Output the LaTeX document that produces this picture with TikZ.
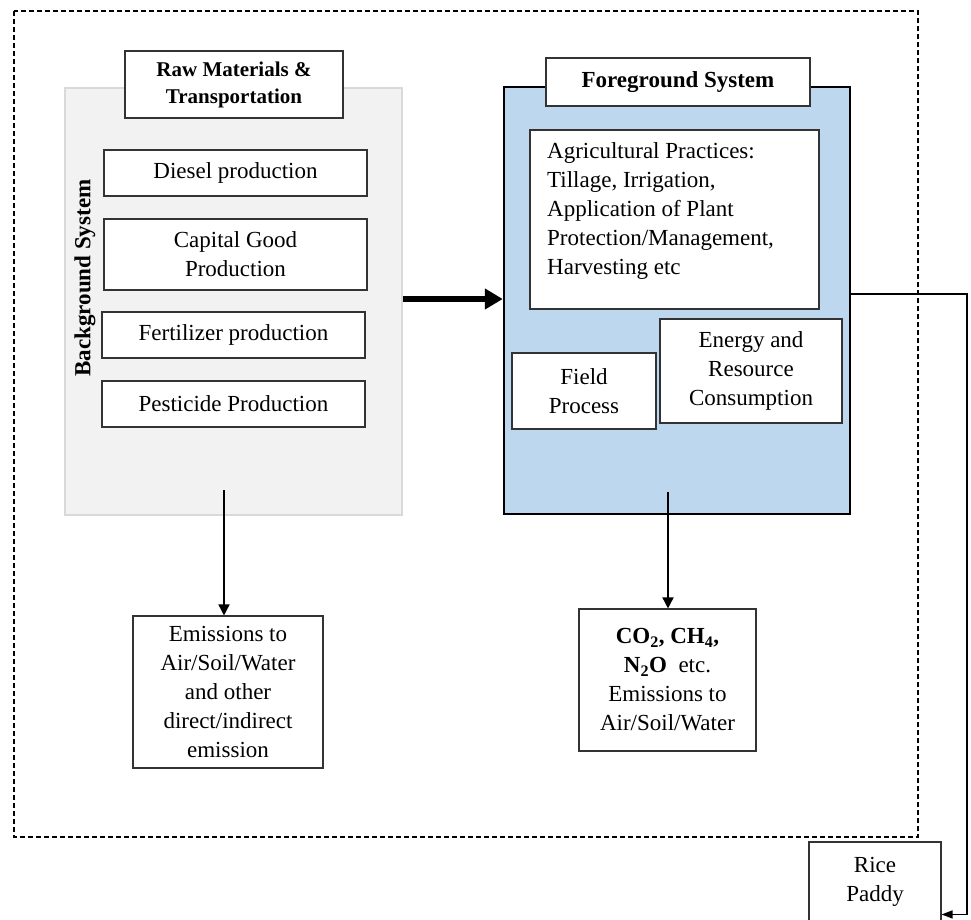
\documentclass[tikz,border=0pt]{standalone}
\usepackage{fontspec}
\setmainfont{Liberation Serif}
\usetikzlibrary{arrows.meta}
\definecolor{bgfill}{HTML}{F2F2F2}
\definecolor{bgline}{HTML}{D9D9D9}
\definecolor{fgfill}{HTML}{BDD7EE}
\begin{document}
\begin{tikzpicture}[x=1pt,y=-1pt,
  box/.style={draw=black!80, line width=1.1pt, fill=white, inner sep=0pt, align=center, font=\fontsize{23}{29}\selectfont},
  titlebox/.style={box, font=\bfseries\fontsize{21}{27}\selectfont},
  conn/.style={line width=1.5pt, -{Triangle[length=11pt,width=11pt]}},
  smallconn/.style={line width=1.4pt, -{Triangle[length=11pt,width=8pt]}},
  bigconn/.style={line width=6.5pt, -{Triangle[length=18pt,width=20pt]}},
]
\clip (0,0) rectangle (971,919);
\fill[white] (0,0) rectangle (971,919);
% outer dashed frame
\draw[line width=1.4pt, dash pattern=on 5pt off 3pt] (14,11) rectangle (918,837);

% background system
\node[draw=bgline, fill=bgfill, line width=1.5pt, minimum width=337pt, minimum height=427pt, inner sep=0pt] (bg) at (233.5,301.5) {};
\node[titlebox, minimum width=218pt, minimum height=67pt] (raw) at (234,84.5) {Raw Materials \&\\Transportation};
\node[box, minimum width=263pt, minimum height=46pt] (diesel) at (235.5,173) {Diesel production};
\node[box, minimum width=263pt, minimum height=71pt] (capital) at (235.5,254.5) {Capital Good\\Production};
\node[box, minimum width=263pt, minimum height=46pt] (fert) at (233.5,335) {Fertilizer production};
\node[box, minimum width=263pt, minimum height=46pt] (pest) at (233.5,404) {Pesticide Production};
\node[rotate=90, font=\bfseries\fontsize{23}{29}\selectfont, inner sep=0pt] (bglabel) at (85,278) {Background System};

% foreground system
\node[draw=black, fill=fgfill, line width=2.5pt, minimum width=346pt, minimum height=427pt, inner sep=0pt] (fg) at (677,300.5) {};
\node[box, font=\bfseries\fontsize{23}{29}\selectfont, minimum width=264pt, minimum height=48pt] (fgtitle) at (678,82) {Foreground System};
\node[box, minimum width=289pt, minimum height=179pt] (agri) at (674.5,219.5) {};
\node[anchor=west, align=left, inner sep=0pt, font=\fontsize{23}{29}\selectfont] (agritext) at (547,210.5) {Agricultural Practices:\\Tillage, Irrigation,\\Application of Plant\\Protection/Management,\\Harvesting etc};
\node[box, minimum width=144pt, minimum height=76pt] (field) at (584,391) {Field\\Process};
\node[box, minimum width=182pt, minimum height=104pt] (energy) at (751,371) {Energy and\\Resource\\Consumption};

% outputs
\node[box, minimum width=190pt, minimum height=152pt] (emis) at (228,692) {Emissions to\\Air/Soil/Water\\and other\\direct/indirect\\emission};
\node[box, minimum width=177pt, minimum height=142pt] (co2) at (667.5,680) {\textbf{CO\textsubscript{2}, CH\textsubscript{4},}\\\textbf{N\textsubscript{2}O}\ \ etc.\\Emissions to\\Air/Soil/Water};
\node[box, minimum width=132pt, minimum height=80pt] (rice) at (875,882) {Rice\\Paddy};

% connectors
\draw[bigconn] (bg.east |- 0,299) -- (fg.west |- 0,299);
\coordinate (bgout) at (224,490);
\draw[conn] (bgout) -- (bgout |- emis.north);
\coordinate (fgout) at (668,492);
\draw[conn] (fgout) -- (fgout |- co2.north);
\coordinate (turn) at (967,294);
\draw[smallconn] ([yshift=6.5pt]fg.east) -- (turn) |- ([yshift=-73pt]rice.north east);
\end{tikzpicture}
\end{document}
